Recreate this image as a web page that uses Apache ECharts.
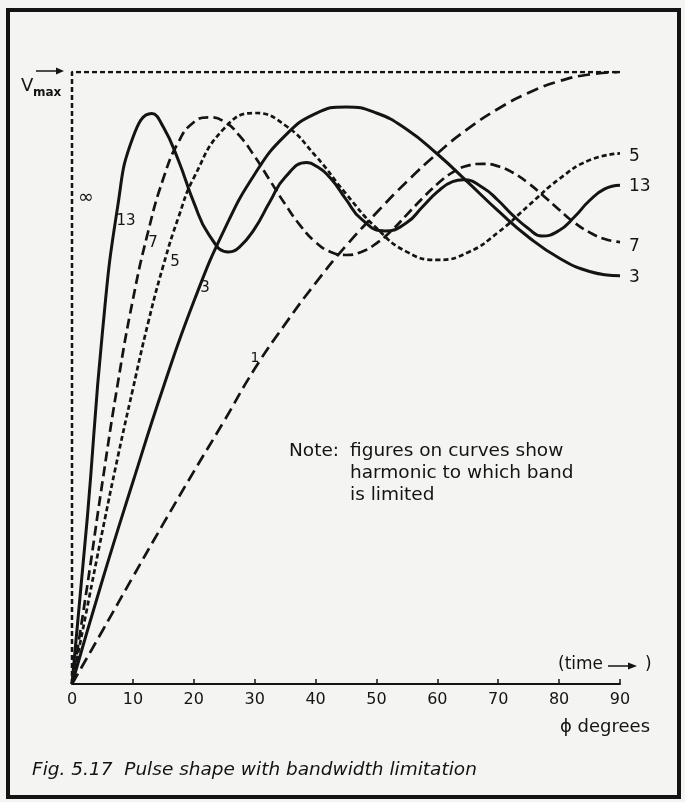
<!DOCTYPE html>
<html>
<head>
<meta charset="utf-8">
<script src="https://cdn.jsdelivr.net/npm/echarts@6/dist/echarts.min.js"></script>
<style>
html,body{margin:0;padding:0;background:#f4f4f2;}
#chart{width:685px;height:802px;}
</style>
</head>
<body>
<div id="chart"></div>
<script>
// ---- data (phi in degrees, V as fraction of Vmax) ----
const xTicks = [0, 10, 20, 30, 40, 50, 60, 70, 80, 90];

const phiInf = [0, 0, 90];
const vInf   = [0, 1, 1];

const phi1 = [0, 5, 10, 15, 20, 25, 30, 35, 40, 45, 50, 55, 60, 65, 70, 75, 80, 85, 90];
const v1   = [0, 0.087, 0.175, 0.262, 0.347, 0.430, 0.515, 0.588, 0.655, 0.716, 0.770, 0.821, 0.867, 0.907, 0.940, 0.966, 0.985, 0.996, 1.0];

const phi3 = [0, 5, 10, 15, 20, 25, 30, 35, 40, 45, 50, 55, 60, 65, 70, 75, 80, 85, 90];
const v3   = [0, 0.170, 0.330, 0.485, 0.625, 0.742, 0.833, 0.896, 0.932, 0.943, 0.933, 0.906, 0.866, 0.820, 0.773, 0.730, 0.696, 0.674, 0.667];

const phi5 = [0, 2.5, 5, 7.5, 10, 12.5, 15, 17.5, 20, 25, 30, 35, 40, 45, 50, 55, 60, 65, 70, 75, 80, 85, 90];
const v5   = [0, 0.125, 0.250, 0.370, 0.482, 0.590, 0.684, 0.763, 0.827, 0.908, 0.933, 0.913, 0.863, 0.801, 0.745, 0.706, 0.693, 0.705, 0.738, 0.782, 0.825, 0.856, 0.867];

const phi7 = [0, 2.5, 5, 7.5, 10, 12.5, 15, 17.5, 20, 22.5, 25, 27.5, 30, 32.5, 35, 37.5, 40, 42.5, 45, 47.5, 50, 52.5, 55, 57.5, 60, 62.5, 65, 67.5, 70, 72.5, 75, 77.5, 80, 82.5, 85, 87.5, 90];
const v7   = [0, 0.160, 0.330, 0.490, 0.628, 0.739, 0.826, 0.886, 0.918, 0.926, 0.919, 0.896, 0.862, 0.823, 0.784, 0.749, 0.722, 0.706, 0.701, 0.706, 0.720, 0.741, 0.767, 0.793, 0.817, 0.836, 0.847, 0.850, 0.846, 0.835, 0.818, 0.797, 0.775, 0.754, 0.738, 0.727, 0.722];

const phi13 = [0, 2.5, 5, 7.5, 10, 13.1, 15, 17.5, 20, 22.5, 25.71, 27.5, 30, 32.5, 35, 38.57, 40, 42.5, 45, 47.5, 51.43, 55, 57.5, 60, 62.5, 64.29, 67.5, 70, 72.5, 75, 77.14, 80, 82.5, 85, 87.5, 90];
const v13   = [0, 0.270, 0.575, 0.780, 0.893, 0.932, 0.910, 0.855, 0.787, 0.734, 0.706, 0.714, 0.744, 0.788, 0.828, 0.852, 0.847, 0.826, 0.792, 0.760, 0.740, 0.754, 0.779, 0.804, 0.821, 0.824, 0.811, 0.790, 0.765, 0.744, 0.732, 0.741, 0.763, 0.790, 0.809, 0.815];

const curveLabels = ['\u221E', '13', '7', '5', '3', '1', '5', '13', '7', '3'];
const noteLines = ['Note:', 'figures on curves show', 'harmonic to which band', 'is limited'];
const captionText = 'Fig. 5.17  Pulse shape with bandwidth limitation';

function pairs(xs, ys) { return xs.map((x, i) => [x, ys[i]]); }

const INK = '#141414';
const FONT = '"DejaVu Sans", "Noto Sans", sans-serif';

const chart = echarts.init(document.getElementById('chart'), null, {renderer: 'canvas'});

function txt(text, x, y, size, opts) {
  opts = opts || {};
  return {
    type: 'text', silent: true, z: 100,
    style: {
      text: text, x: x, y: y,
      font: (opts.italic ? 'italic ' : '') + (opts.weight || 'normal') + ' ' + size + 'px ' + FONT,
      fill: INK,
      align: opts.align || 'left', textAlign: opts.align || 'left',
      verticalAlign: 'middle', textVerticalAlign: 'middle'
    }
  };
}

const graphics = [
  // frame
  {type: 'rect', silent: true, z: 100, shape: {x: 8, y: 10, width: 671, height: 787},
   style: {fill: null, stroke: INK, lineWidth: 4}},
  // Vmax label with arrow
  txt('V', 21, 86, 18),
  txt('max', 33, 93, 12, {weight: 'bold'}),
  {type: 'line', silent: true, z: 100, shape: {x1: 36, y1: 71, x2: 58, y2: 71}, style: {stroke: INK, lineWidth: 1.5}},
  {type: 'polygon', silent: true, z: 100, shape: {points: [[64, 71], [56, 67.5], [56, 74.5]]}, style: {fill: INK}},
  // curve labels on the left
  txt(curveLabels[0], 86, 198, 19, {align: 'center'}),
  txt(curveLabels[1], 126, 221, 15, {align: 'center'}),
  txt(curveLabels[2], 153, 243, 15, {align: 'center'}),
  txt(curveLabels[3], 175, 262, 15, {align: 'center'}),
  txt(curveLabels[4], 205, 288, 15, {align: 'center'}),
  txt(curveLabels[5], 255, 358, 14, {align: 'center'}),
  // curve labels on the right
  txt(curveLabels[6], 629, 157, 17),
  txt(curveLabels[7], 629, 187, 17),
  txt(curveLabels[8], 629, 247, 17),
  txt(curveLabels[9], 629, 278, 17),
  // note
  txt(noteLines[0], 289, 451, 18.5),
  txt(noteLines[1], 350, 451, 18.5),
  txt(noteLines[2], 350, 473, 18.5),
  txt(noteLines[3], 350, 495, 18.5),
  // (time -> )
  txt('(time', 558, 665, 17),
  {type: 'line', silent: true, z: 100, shape: {x1: 608, y1: 666, x2: 630, y2: 666}, style: {stroke: INK, lineWidth: 1.5}},
  {type: 'polygon', silent: true, z: 100, shape: {points: [[637, 666], [628, 662.5], [628, 669.5]]}, style: {fill: INK}},
  txt(')', 645, 665, 17),
  // phi degrees
  txt('\u03D5 degrees', 560, 727, 18),
  // caption
  txt(captionText, 32, 770, 18.5, {italic: true})
];

const option = {
  backgroundColor: '#f4f4f2',
  animation: false,
  grid: {left: 72, right: 65, top: 72, bottom: 118, containLabel: false},
  xAxis: {
    type: 'value', min: 0, max: 90, interval: 10,
    axisLine: {show: true, lineStyle: {color: INK, width: 2}},
    axisTick: {show: true, inside: true, length: 5, lineStyle: {color: INK, width: 1.5}},
    axisLabel: {show: true, color: INK, fontSize: 16, fontFamily: FONT, margin: 8,
      formatter: v => (xTicks.indexOf(v) >= 0 ? String(v) : '')},
    splitLine: {show: false}
  },
  yAxis: {
    type: 'value', min: 0, max: 1, show: false, splitLine: {show: false}
  },
  series: [
    {name: 'inf', type: 'line', data: pairs(phiInf, vInf), symbol: 'none', silent: true,
     lineStyle: {color: INK, width: 2.5, type: [5, 3]}},
    {name: '1', type: 'line', data: pairs(phi1, v1), symbol: 'none', smooth: true, silent: true,
     lineStyle: {color: INK, width: 2.7, type: [12, 6]}},
    {name: '3', type: 'line', data: pairs(phi3, v3), symbol: 'none', smooth: true, silent: true,
     lineStyle: {color: INK, width: 3, type: 'solid'}},
    {name: '5', type: 'line', data: pairs(phi5, v5), symbol: 'none', smooth: true, silent: true,
     lineStyle: {color: INK, width: 2.7, type: [5, 3]}},
    {name: '7', type: 'line', data: pairs(phi7, v7), symbol: 'none', smooth: true, silent: true,
     lineStyle: {color: INK, width: 2.7, type: [10, 5]}},
    {name: '13', type: 'line', data: pairs(phi13, v13), symbol: 'none', smooth: true, silent: true,
     lineStyle: {color: INK, width: 3, type: 'solid'}}
  ],
  graphic: graphics
};

chart.setOption(option);
</script>
</body>
</html>
